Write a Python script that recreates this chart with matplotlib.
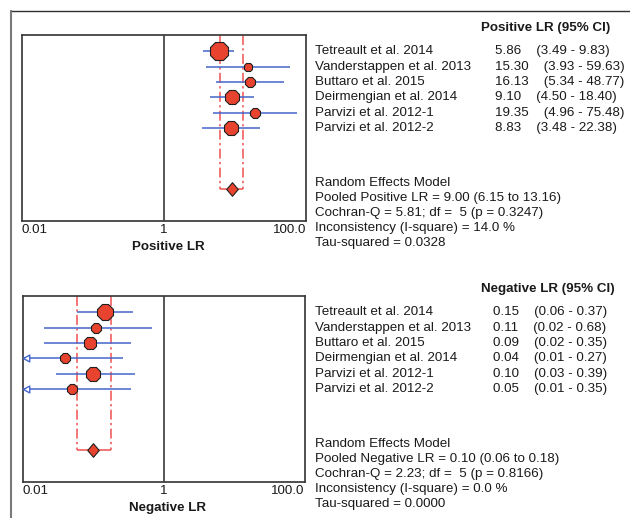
import matplotlib
matplotlib.use("Agg")
import matplotlib.pyplot as plt
import numpy as np
from matplotlib.lines import Line2D
from matplotlib.path import Path
from matplotlib.transforms import blended_transform_factory

plt.rcParams["font.family"] = ["Liberation Sans", "DejaVu Sans"]

studies = [
    "Tetreault et al. 2014",
    "Vanderstappen et al. 2013",
    "Buttaro et al. 2015",
    "Deirmengian et al. 2014",
    "Parvizi et al. 2012-1",
    "Parvizi et al. 2012-2",
]

pos_lr = [5.86, 15.30, 16.13, 9.10, 19.35, 8.83]
pos_lo = [3.49, 3.93, 5.34, 4.50, 4.96, 3.48]
pos_hi = [9.83, 59.63, 48.77, 18.40, 75.48, 22.38]
pos_weights = [33.2, 7.6, 9.6, 19.2, 11.2, 19.2]
pos_pooled = (9.00, 6.15, 13.16)
pos_summary = [
    "Random Effects Model",
    "Pooled Positive LR = 9.00 (6.15 to 13.16)",
    "Cochran-Q = 5.81; df =  5 (p = 0.3247)",
    "Inconsistency (I-square) = 14.0 %",
    "Tau-squared = 0.0328",
]

neg_lr = [0.15, 0.11, 0.09, 0.04, 0.10, 0.05]
neg_lo = [0.06, 0.02, 0.02, 0.01, 0.03, 0.01]
neg_hi = [0.37, 0.68, 0.35, 0.27, 0.39, 0.35]
neg_weights = [29.0, 9.8, 16.3, 11.3, 22.2, 11.3]
neg_pooled = (0.10, 0.06, 0.18)
neg_summary = [
    "Random Effects Model",
    "Pooled Negative LR = 0.10 (0.06 to 0.18)",
    "Cochran-Q = 2.23; df =  5 (p = 0.8166)",
    "Inconsistency (I-square) = 0.0 %",
    "Tau-squared = 0.0000",
]

x_ticks = [0.01, 1, 100]
x_tick_labels = ["0.01", "1", "100.0"]

RED = "#e8432e"
DASH_RED = "#f05050"
BLUE = "#4466cc"
FRAME = "#3a3a3a"
TXT = "#1a1a1a"
FS = 9.6

# open arrow head with its tip at the origin (lower CI beyond the axis)
LEFT_ARROW = Path([(0, 0), (2, -1.1), (2, 1.1), (0, 0)],
                  [Path.MOVETO, Path.LINETO, Path.LINETO, Path.CLOSEPOLY])
# pooled estimate diamond, slightly taller than wide
DIAMOND = Path([(0, 1), (0.85, 0), (0, -1), (-0.85, 0), (0, 1)],
               [Path.MOVETO, Path.LINETO, Path.LINETO, Path.LINETO, Path.CLOSEPOLY])

POOLED_ROW = 9


def draw_panel(fig, ax, est, lo, hi, weights, pooled, header, summary, xlabel,
               value_x):
    xmin, xmax = x_ticks[0], x_ticks[-1]
    rows = np.arange(len(est))
    ax.set_xscale("log")
    ax.set_xlim(xmin, xmax)
    ax.set_ylim(11.05, -1.05)

    p_est, p_lo, p_hi = pooled
    dash = (0, (6.5, 2.2, 1.5, 2.2))
    ax.vlines([p_lo, p_hi], -1.05, POOLED_ROW, colors=DASH_RED, lw=1.1,
              linestyles=[dash], zorder=1)
    ax.hlines(POOLED_ROW, p_lo, p_hi, colors=DASH_RED, lw=1.1, zorder=1)
    ax.axvline(1, color=FRAME, lw=1.2, zorder=2)

    lo_clip = np.maximum(lo, xmin)
    ax.hlines(rows, lo_clip, hi, colors=BLUE, lw=1.1, zorder=3)
    for r, l in zip(rows, lo):
        if l <= xmin:
            ax.plot(xmin, r, marker=LEFT_ARROW, ms=9, mfc="white",
                    mec=BLUE, mew=1.0, zorder=4, clip_on=False)

    sizes = 2.4 * np.sqrt(weights)
    for r, e, s in zip(rows, est, sizes):
        ax.plot(e, r, marker="8", ms=s, mfc=RED, mec="#202020", mew=0.8, zorder=5)
    ax.plot(p_est, POOLED_ROW, marker=DIAMOND, ms=9.8, mfc=RED, mec="#202020",
            mew=0.8, zorder=5)

    ax.set_yticks([])
    ax.set_xticks(x_ticks)
    ax.set_xticklabels(x_tick_labels)
    ax.minorticks_off()
    ax.tick_params(axis="x", length=0, pad=2.5, labelsize=FS, labelcolor=TXT)
    for lab, ha in zip(ax.get_xticklabels(), ["left", "center", "right"]):
        lab.set_ha(ha)
    for sp in ax.spines.values():
        sp.set_color(FRAME)
        sp.set_linewidth(1.25)

    ax.text(0.515, -0.14, xlabel, transform=ax.transAxes, ha="center",
            va="center", fontsize=FS, fontweight="bold", color=TXT)

    row_tr = blended_transform_factory(fig.transFigure, ax.transData)
    ax_tr = blended_transform_factory(fig.transFigure, ax.transAxes)
    ax.text(0.7635, 1.04, header, transform=ax_tr, ha="left", va="center",
            fontsize=FS, fontweight="bold", color=TXT)
    for r, name, e, l, h in zip(rows, studies, est, lo, hi):
        ax.text(0.5, r, name, transform=row_tr, ha="left", va="center",
                fontsize=FS, color=TXT)
        ax.text(value_x, r, f"{e:.2f}    ({l:.2f} - {h:.2f})", transform=row_tr,
                ha="left", va="center", fontsize=FS, color=TXT)
    for i, line in enumerate(summary):
        ax.text(0.5, 0.205 - i * 0.081, line, transform=ax_tr, ha="left",
                va="center", fontsize=FS, color=TXT)


fig = plt.figure(figsize=(6.3, 5.18), dpi=100)
W, H = 630, 518

ax_pos = fig.add_axes([22 / W, 1 - 221 / H, 284 / W, 186 / H])
ax_neg = fig.add_axes([22.5 / W, 1 - 482 / H, 282 / W, 186 / H])

draw_panel(fig, ax_pos, pos_lr, pos_lo, pos_hi, pos_weights, pos_pooled,
           "Positive LR (95% CI)", pos_summary, "Positive LR", 495 / W)
draw_panel(fig, ax_neg, neg_lr, neg_lo, neg_hi, neg_weights, neg_pooled,
           "Negative LR (95% CI)", neg_summary, "Negative LR", 493 / W)

# outer frame: top and left edges only
fig.add_artist(Line2D([11 / W, 1], [1 - 11 / H, 1 - 11 / H], color="#303030",
                      lw=1.0, transform=fig.transFigure))
fig.add_artist(Line2D([11 / W, 11 / W], [0, 1 - 11 / H], color="#7a7a7a",
                      lw=1.5, transform=fig.transFigure))

fig.savefig("out.png", dpi=100)
